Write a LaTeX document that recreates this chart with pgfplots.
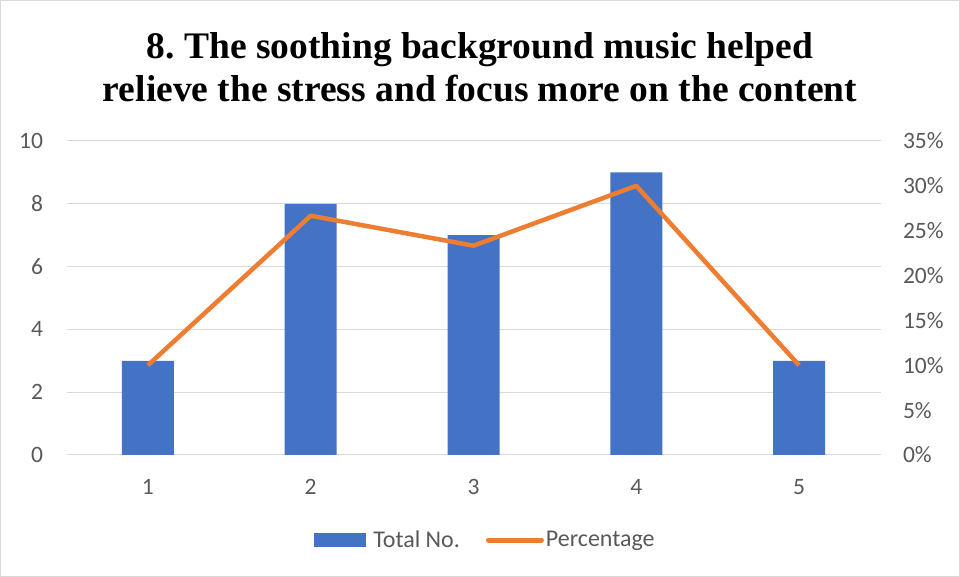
\documentclass[border=0pt]{standalone}
\usepackage{pgfplots}
\pgfplotsset{compat=1.18}
\usepackage{fontspec}
\setmainfont{Carlito}
\newfontfamily\titlefont{Liberation Serif}
\definecolor{barblue}{HTML}{4472C4}
\definecolor{lineorange}{HTML}{ED7D31}
\definecolor{ticktext}{HTML}{595959}
\definecolor{gridgray}{HTML}{D9D9D9}
\frenchspacing

\begin{document}
\begin{tikzpicture}[x=1pt,y=1pt]
% chart frame
\path[draw=gridgray, line width=1pt] (0.5,0.5) rectangle (959.5,576.5);

% title
\node[align=center, font=\titlefont\bfseries\fontsize{37.5}{43}\selectfont] at (480,510)
  {8. The soothing background music helped\\relieve the stress and focus more on the content};

% counts (left axis)
\begin{axis}[
  at={(66.5pt,122pt)}, anchor=south west,
  scale only axis, width=814pt, height=314pt,
  xmin=0.5, xmax=5.5, ymin=0, ymax=10,
  xtick={1,2,3,4,5}, ytick={0,2,4,6,8,10},
  ymajorgrids, grid style={gridgray, line width=1pt},
  axis line style={draw=none}, tick style={draw=none},
  ticklabel style={font=\fontsize{23.5}{26}\selectfont, text=ticktext},
  yticklabel style={xshift=-20pt},
  xticklabel style={yshift=-21pt},
  /pgf/number format/assume math mode=true,
  legend columns=2,
  legend style={at={(0.5147,-0.2707)}, anchor=center, draw=none, fill=none,
    font=\fontsize{24}{26}\selectfont, text=ticktext,
    nodes={inner xsep=2pt},
    /tikz/every even column/.append style={column sep=24pt}},
]
\addplot[fill=barblue, draw=none, ybar, bar width=52pt,
  legend image code/.code={\fill[barblue] (0pt,-7pt) rectangle (52pt,7pt); \path (57pt,0pt);}]
  coordinates {(1,3) (2,8) (3,7) (4,9) (5,3)};
\addlegendentry{Total No.}
\addlegendimage{legend image code/.code={\draw[lineorange, line width=5pt, line cap=round] (2pt,0pt) -- (55pt,0pt);}}
\addlegendentry{Percentage}
\end{axis}

% percentages (right axis)
\begin{axis}[
  at={(66.5pt,122pt)}, anchor=south west,
  scale only axis, width=814pt, height=314pt,
  xmin=0.5, xmax=5.5, ymin=0, ymax=35,
  axis y line*=right, axis x line=none,
  ytick={0,5,...,35},
  yticklabel={\pgfmathprintnumber{\tick}\%},
  axis line style={draw=none}, tick style={draw=none},
  ticklabel style={font=\fontsize{23.5}{26}\selectfont, text=ticktext},
  yticklabel style={xshift=19pt},
  /pgf/number format/assume math mode=true,
]
\addplot[lineorange, line width=4.5pt, no marks, line join=round] coordinates {
  (1,10) (2,26.67) (3,23.33) (4,30) (5,10)
};
\end{axis}
\end{tikzpicture}
\end{document}
